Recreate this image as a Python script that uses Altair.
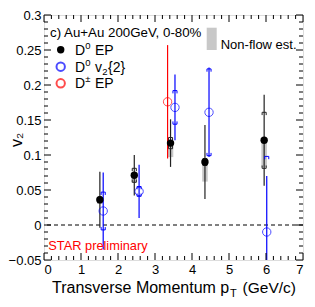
import altair as alt
import pandas as pd

# ---------------- data ----------------
pt_ep = [1.51, 2.44, 3.42, 4.35, 5.95]
v2_ep = [0.036, 0.071, 0.117, 0.090, 0.121]
stat_ep = [0.040, 0.029, 0.034, 0.053, 0.065]
sys_ep = [0.004, 0.010, 0.008, 0.005, 0.040]
nonflow_ep = [0.006, 0.010, 0.020, 0.028, 0.038]

pt_v22 = [1.60, 2.57, 3.54, 4.46, 6.02]
v2_v22 = [0.020, 0.048, 0.168, 0.161, -0.010]
stat_v22 = [0.055, 0.038, 0.047, 0.064, 0.080]
sys_v22 = [0.027, 0.007, 0.024, 0.062, 0.108]

pt_dpm = [3.34]
v2_dpm = [0.176]
stat_dpm = [0.081]

x_major = [0, 1, 2, 3, 4, 5, 6, 7]
y_major = [-0.05, 0, 0.05, 0.1, 0.15, 0.2, 0.25, 0.3]

W, H = 259, 245
HALF = 0.055   # bracket half width (data units)
LEG = 0.004    # bracket leg length
NFW = 0.075    # non-flow box half width
FONT = "Liberation Sans"

xs = alt.Scale(domain=[0, 7], nice=False, zero=False)
ys = alt.Scale(domain=[-0.05, 0.3], nice=False, zero=False)
xaxis = alt.Axis(values=x_major, format="d", ticks=False, domain=False, grid=False,
                 labelFontSize=13, labelPadding=3, labelColor="black", title=None,
                 labelFont=FONT)
yaxis = alt.Axis(values=y_major, format="~g", ticks=False, domain=False, grid=False,
                 labelFontSize=13, labelPadding=3, labelColor="black", title=None,
                 labelFont=FONT)


def frame(pt, v2, stat, sys=None, nf=None):
    d = pd.DataFrame({"pt": pt, "v2": v2, "stat": stat})
    d["lo"] = d.v2 - d.stat
    d["hi"] = d.v2 + d.stat
    d["xl"] = d.pt - HALF
    d["xr"] = d.pt + HALF
    if sys is not None:
        d["shi"] = d.v2 + pd.Series(sys)
        d["slo"] = d.v2 - pd.Series(sys)
        d["shi_l"] = d.shi - LEG
        d["slo_l"] = d.slo + LEG
    if nf is not None:
        d["nflo"] = d.v2 - pd.Series(nf)
        d["nxl"] = d.pt - NFW
        d["nxr"] = d.pt + NFW
    return d


ep = frame(pt_ep, v2_ep, stat_ep, sys_ep, nonflow_ep)
v22 = frame(pt_v22, v2_v22, stat_v22, sys_v22)
dpm = frame(pt_dpm, v2_dpm, stat_dpm)

X = lambda f: alt.X(f"{f}:Q", scale=xs, axis=xaxis)
Y = lambda f: alt.Y(f"{f}:Q", scale=ys, axis=yaxis)

layers = []

# non-flow boxes
layers.append(alt.Chart(ep).mark_rect(color="#c8c8c8", clip=True).encode(
    x=X("nxl"), x2="nxr", y=Y("nflo"), y2="v2"))

# zero line
layers.append(alt.Chart(pd.DataFrame({"z": [0]})).mark_rule(
    color="black", strokeDash=[4, 3], strokeWidth=1).encode(y=Y("z")))


def brackets(d, color):
    out = []
    for yv, yl in (("shi", "shi_l"), ("slo", "slo_l")):
        out.append(alt.Chart(d).mark_rule(color=color, strokeWidth=1, clip=True).encode(
            x=X("xl"), x2="xr", y=Y(yv)))
        for xv in ("xl", "xr"):
            out.append(alt.Chart(d).mark_rule(color=color, strokeWidth=1, clip=True).encode(
                x=X(xv), y=Y(yv), y2=yl))
    return out


# stat error bars + systematic brackets
layers.append(alt.Chart(ep).mark_rule(color="#222222", strokeWidth=1.2, clip=True).encode(
    x=X("pt"), y=Y("lo"), y2="hi"))
layers += brackets(ep, "#222222")
layers.append(alt.Chart(v22).mark_rule(color="#0000ff", strokeWidth=1.2, clip=True).encode(
    x=X("pt"), y=Y("lo"), y2="hi"))
layers += brackets(v22, "#0000ff")
layers.append(alt.Chart(dpm).mark_rule(color="#ff0000", strokeWidth=1.2, clip=True).encode(
    x=X("pt"), y=Y("lo"), y2="hi"))

# points
layers.append(alt.Chart(v22).mark_point(shape="circle", size=70, filled=False,
                                        color="#0000ff", strokeWidth=1, clip=True).encode(
    x=X("pt"), y=Y("v2")))
layers.append(alt.Chart(dpm).mark_point(shape="circle", size=70, filled=False,
                                        color="#ff0000", strokeWidth=1, clip=True).encode(
    x=X("pt"), y=Y("v2")))
layers.append(alt.Chart(ep).mark_circle(size=55, color="black", opacity=1, clip=True).encode(
    x=X("pt"), y=Y("v2")))

# inside ticks on all four sides
x_minor = [round(i * 0.2, 2) for i in range(36) if i % 5 != 0]
y_minor = [round(-0.05 + i * 0.01, 2) for i in range(36) if i % 5 != 0]
for vals, ln in ((x_major, 7), (x_minor, 4)):
    d = pd.DataFrame({"t": vals})
    layers.append(alt.Chart(d).mark_rule(color="black", strokeWidth=1).encode(
        x=X("t"), y=alt.value(H), y2=alt.value(H - ln)))
    layers.append(alt.Chart(d).mark_rule(color="black", strokeWidth=1).encode(
        x=X("t"), y=alt.value(0), y2=alt.value(ln)))
for vals, ln in ((y_major, 7), (y_minor, 4)):
    d = pd.DataFrame({"t": vals})
    layers.append(alt.Chart(d).mark_rule(color="black", strokeWidth=1).encode(
        y=Y("t"), x=alt.value(0), x2=alt.value(ln)))
    layers.append(alt.Chart(d).mark_rule(color="black", strokeWidth=1).encode(
        y=Y("t"), x=alt.value(W), x2=alt.value(W - ln)))

one = pd.DataFrame({"a": [0]})


def txt(text, x, y, size, align="left", color="black", angle=0, baseline="alphabetic"):
    return alt.Chart(one).mark_text(align=align, baseline=baseline, fontSize=size, font=FONT,
                                    color=color, angle=angle).encode(
        x=alt.value(x), y=alt.value(y), text=alt.value(text))


# titles
layers.append(txt("v\u2082", -27, 125, 16, align="center", angle=270, baseline="middle"))
layers.append(txt("Transverse Momentum p", 8, 278, 16))
layers.append(txt("T", 186, 282, 11))
layers.append(txt("(GeV/c)", 252, 278, 15.5, align="right"))

# header + legend
layers.append(txt("c) Au+Au 200GeV, 0-80%", 6, 22, 13.3))
leg_y = [34.7, 51.7, 68.3]
layers.append(alt.Chart(one).mark_circle(size=55, color="black", opacity=1).encode(
    x=alt.value(16.7), y=alt.value(leg_y[0])))
layers.append(alt.Chart(one).mark_point(shape="circle", size=70, color="#0000ff", filled=False).encode(
    x=alt.value(16.7), y=alt.value(leg_y[1])))
layers.append(alt.Chart(one).mark_point(shape="circle", size=70, color="#ff0000", filled=False).encode(
    x=alt.value(16.7), y=alt.value(leg_y[2])))
for i, y in enumerate(leg_y):
    b = y + 5
    layers.append(txt("D", 31, b, 14))
    layers.append(txt("0" if i < 2 else "\u00b1", 41.3, b - 6, 9.5))
    if i == 1:
        layers.append(txt("v", 51, b, 14))
        layers.append(txt("2", 58.2, b + 3, 9.5))
        layers.append(txt("{2}", 64, b, 14))
    else:
        layers.append(txt("EP", 51, b, 14))

layers.append(alt.Chart(one).mark_rect(color="#c8c8c8").encode(
    x=alt.value(162.7), x2=alt.value(172.7), y=alt.value(12.7), y2=alt.value(35)))
layers.append(txt("Non-flow est.", 176.7, 34, 13))

layers.append(txt("STAR preliminary", 4.3, 235, 12.8, color="#ff0000"))

chart = alt.layer(*layers).properties(
    width=W, height=H,
    autosize=alt.AutoSizeParams(type="none"),
    padding={"left": 36, "top": 7, "right": 4, "bottom": 47},
    background="white",
).configure_view(stroke="black", strokeWidth=2).configure(font=FONT)

chart.save("out.html", embed_options={"renderer": "svg", "actions": False})
